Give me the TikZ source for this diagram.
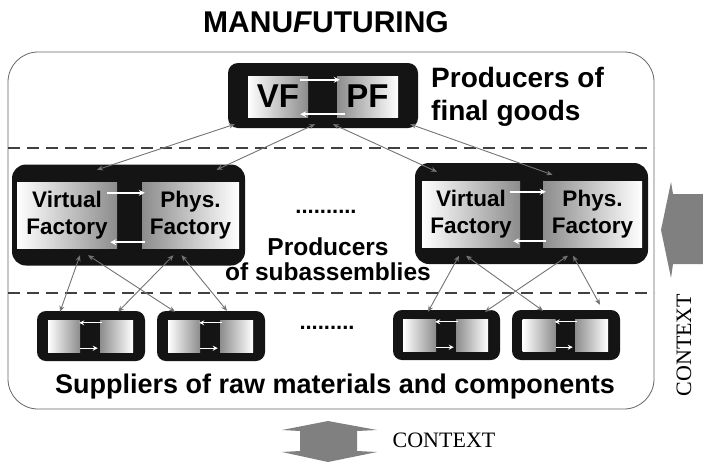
\documentclass[tikz,border=0pt]{standalone}
\usepackage{fontspec}
\setmainfont{Liberation Sans}
\newfontfamily\ctxfont{Liberation Serif}
\usetikzlibrary{arrows.meta}

\tikzset{
    frame/.style={draw=black!60, line width=0.8pt, rounded corners=30pt},
    layer/.style={draw=black!75, line width=1.4pt, dash pattern=on 12pt off 7pt},
    unit/.style={fill=black!92, rounded corners=#1, inner sep=0pt},
    vpanel/.style={left color=white, right color=black!45, inner sep=0pt, align=center},
    ppanel/.style={left color=black!45, right color=white, inner sep=0pt, align=center},
    flow/.style={draw=white, line width=1.5pt, -{Stealth[length=6pt,width=6pt]}},
    ctx/.style={fill=black!50},
}

\begin{document}
\begin{tikzpicture}[x=1pt, y=-1pt]
        \useasboundingbox (0,0) rectangle (703,464);

        \draw[frame] (8,52) rectangle (654,409);
        \draw[layer] (8,148) -- (654,148);
        \draw[layer] (8,293) -- (654,293);

        % dark frames
        \node[unit=10pt, minimum width=190pt, minimum height=65pt] (T) at (323,95.5) {};
        \node[unit=14pt, minimum width=233pt, minimum height=101pt] (L) at (128.5,215) {};
        \node[unit=14pt, minimum width=233pt, minimum height=101pt] (R) at (531.5,213.5) {};
        \node[unit=9pt, minimum width=108pt, minimum height=50pt] (S1) at (91,336) {};
        \node[unit=9pt, minimum width=108pt, minimum height=50pt] (S2) at (211,336) {};
        \node[unit=9pt, minimum width=107pt, minimum height=50pt] (S3) at (446.5,335) {};
        \node[unit=9pt, minimum width=108pt, minimum height=50pt] (S4) at (566,335) {};

        \begin{scope}[every node/.style={font=\fontsize{33}{36}\selectfont\bfseries, minimum height=41pt}]
            \node[vpanel, minimum width=60pt] (TV) at (278,96.5) {VF};
            \node[ppanel, minimum width=61pt] (TP) at (367.5,96.5) {PF};
        \end{scope}

        \begin{scope}[every node/.style={font=\fontsize{22.5}{27}\selectfont\bfseries, minimum height=66pt}]
            \node[vpanel, minimum width=100pt] (LV) at (67,215) {Virtual\\Factory};
            \node[ppanel, minimum width=97pt] (LP) at (190.5,215) {Phys.\\Factory};
            \node[vpanel, minimum width=98pt] (RV) at (471,214) {Virtual\\Factory};
            \node[ppanel, minimum width=99pt] (RP) at (592.5,214) {Phys.\\Factory};
        \end{scope}

        \begin{scope}[every node/.style={minimum height=32pt}]
            \node[vpanel, minimum width=32pt] (S1V) at (64,336) {};
            \node[ppanel, minimum width=33pt] (S1P) at (116.5,336) {};
            \node[vpanel, minimum width=32pt] (S2V) at (184,336) {};
            \node[ppanel, minimum width=33pt] (S2P) at (236.5,336) {};
            \node[vpanel, minimum width=33pt] (S3V) at (419.5,335) {};
            \node[ppanel, minimum width=32pt] (S3P) at (472,335) {};
            \node[vpanel, minimum width=33pt] (S4V) at (539,335) {};
            \node[ppanel, minimum width=33pt] (S4P) at (591.5,335) {};
        \end{scope}

        % virtual <-> physical
        \draw[flow] ([shift={(-8,4)}]TV.north east) -- ([shift={(3,4)}]TP.north west);
        \draw[flow] ([shift={(8,-3)}]TP.south west) -- ([shift={(-8,-3)}]TV.south east);
        \draw[flow] ([shift={(-10,11)}]LV.north east) -- ([shift={(3,11)}]LP.north west);
        \draw[flow] ([shift={(3,-6)}]LP.south west) -- ([shift={(-7,-6)}]LV.south east);
        \draw[flow] ([shift={(-10,11)}]RV.north east) -- ([shift={(3,11)}]RP.north west);
        \draw[flow] ([shift={(3,-6)}]RP.south west) -- ([shift={(-7,-6)}]RV.south east);

        \begin{scope}[flow/.append style={line width=1pt, -{Stealth[length=5pt,width=5pt]}}]
            \draw[flow] ([shift={(2,3)}]S1P.north west) -- ([shift={(-1,3)}]S1V.north east);
            \draw[flow] ([shift={(0,-4)}]S1V.south east) -- ([shift={(-2,-4)}]S1P.south west);
            \draw[flow] ([shift={(2,3)}]S2P.north west) -- ([shift={(-1,3)}]S2V.north east);
            \draw[flow] ([shift={(0,-4)}]S2V.south east) -- ([shift={(-2,-4)}]S2P.south west);
            \draw[flow] ([shift={(2,3)}]S3P.north west) -- ([shift={(-1,3)}]S3V.north east);
            \draw[flow] ([shift={(0,-4)}]S3V.south east) -- ([shift={(-2,-4)}]S3P.south west);
            \draw[flow] ([shift={(2,3)}]S4P.north west) -- ([shift={(-1,3)}]S4V.north east);
            \draw[flow] ([shift={(0,-4)}]S4V.south east) -- ([shift={(-2,-4)}]S4P.south west);
        \end{scope}

        \begin{scope}[every edge/.style={draw=black!55, line width=0.9pt}]
            \path [{Stealth[length=6pt,width=5pt]}-{Stealth[length=6pt,width=5pt]}]
                ([shift={(7,-4)}]T.south west) edge ([shift={(30,-12)}]LV.north)
                ([shift={(-8,-4)}]T.south) edge ([shift={(26,-12)}]LP.north)
                ([shift={(10,-4)}]T.south) edge ([shift={(-34,-9)}]RV.north)
                ([shift={(-8,-4)}]T.south east) edge ([shift={(-40,-6)}]RP.north)

                ([shift={(13,7)}]LV.south) edge ([shift={(-4,-8)}]S1V.north)
                ([shift={(21,7)}]LV.south) edge ([shift={(-9,-8)}]S2V.north)
                ([shift={(-17,7)}]LP.south) edge ([shift={(1.5,-8)}]S1P.north)
                ([shift={(-9,7)}]LP.south) edge ([shift={(-9.5,-9)}]S2P.north)
                ([shift={(-12,8.5)}]RV.south) edge ([shift={(8.5,-7)}]S3V.north)
                ([shift={(-5,8.5)}]RV.south) edge ([shift={(4,-8)}]S4V.north)
                ([shift={(-24.5,8.5)}]RP.south) edge ([shift={(13,-7)}]S3P.north)
                ([shift={(-19.5,8.5)}]RP.south) edge ([shift={(8.5,-14)}]S4P.north);
        \end{scope}

        % texts
        \begin{scope}[every node/.style={font=\bfseries, inner sep=0pt}]
            \node[font=\fontsize{30}{36}\selectfont\bfseries] (title) at (326,22) {MANU\textit{F}UTURING};
            \node[anchor=west, align=left, font=\fontsize{28}{33}\selectfont\bfseries] (final) at (431,97) {Producers of\\final goods};
            \node[align=center, font=\fontsize{24.5}{25}\selectfont\bfseries] (sub) at (328,259) {Producers\\of subassemblies};
            \node[font=\fontsize{27}{30}\selectfont\bfseries] (raw) at (335,387) {Suppliers of raw materials and components};
            \node[font=\fontsize{22}{24}\selectfont\bfseries] (dotsM) at (326,212) {..........};
            \node[font=\fontsize{22}{24}\selectfont\bfseries] (dotsS) at (327,328) {.........};
        \end{scope}

        % context arrows
        \fill[ctx] (661,230) -- (671,182) -- (673,194) -- (703,194) -- (703,264) -- (673,264) -- (671,278) -- cycle;
        \fill[ctx] (300,451) -- (300,431) -- (282,430) -- (328,421) -- (377,430) -- (357,431) -- (357,451) -- (377,452) -- (328,462) -- (282,452) -- cycle;
        \node[rotate=90, font=\ctxfont\fontsize{22}{24}\selectfont] (ctxR) at (684,345) {CONTEXT};
        \node[font=\ctxfont\fontsize{22}{24}\selectfont] (ctxB) at (444,440) {CONTEXT};
\end{tikzpicture}
\end{document}
